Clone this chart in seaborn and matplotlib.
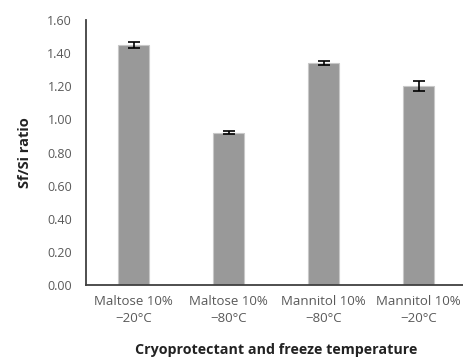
import matplotlib
matplotlib.use("Agg")
import matplotlib.pyplot as plt
import seaborn as sns
import pandas as pd
import numpy as np

categories = ["Maltose 10%\n\u221220\u00b0C", "Maltose 10%\n\u221280\u00b0C",
              "Mannitol 10%\n\u221280\u00b0C", "Mannitol 10%\n\u221220\u00b0C"]
values = [1.45, 0.92, 1.34, 1.20]
errors = [0.02, 0.01, 0.012, 0.03]
yticks = [0.0, 0.2, 0.4, 0.6, 0.8, 1.0, 1.2, 1.4, 1.6]

sns.set_style("white")
plt.rcParams['font.family'] = ['Open Sans', 'DejaVu Sans']

df = pd.DataFrame({"cat": categories, "val": values, "err": errors})

fig = plt.figure(figsize=(4.63, 3.62), dpi=100)
W, H = 463, 362
ax = fig.add_axes([86 / W, 1 - 285 / H, 380 / W, (285 - 20) / H])

sns.barplot(data=df, x="cat", y="val", color="#999999", width=0.33,
            edgecolor="#c8c8c8", linewidth=0.8, saturation=1, ax=ax, errorbar=None)
xs = np.arange(len(categories))
ax.errorbar(xs, df["val"], yerr=df["err"], fmt="none", ecolor="black",
            elinewidth=1.2, capsize=4, capthick=1.2)

ax.set_ylim(0, 1.6)
ax.set_xlim(-0.5, len(categories) - 0.5)
ax.set_yticks(yticks)
ax.set_yticklabels([f"{t:.2f}" for t in yticks], fontsize=9, color="#595959")
ax.set_xticks(xs)
ax.set_xticklabels(categories, fontsize=9.5, color="#595959", linespacing=1.45)
ax.tick_params(axis="y", length=0, pad=10)
ax.tick_params(axis="x", length=0, pad=7)

for s in ["top", "right"]:
    ax.spines[s].set_visible(False)
for s in ["left", "bottom"]:
    ax.spines[s].set_color("#404040")
    ax.spines[s].set_linewidth(1.3)

ax.set_xlabel("Cryoprotectant and freeze temperature", fontsize=10.3, fontweight="bold",
              color="#222222", labelpad=13)
ax.set_ylabel("Sf/Si ratio", fontsize=10.5, fontweight="bold", color="#222222", labelpad=11)

fig.savefig("out.png", dpi=100)
